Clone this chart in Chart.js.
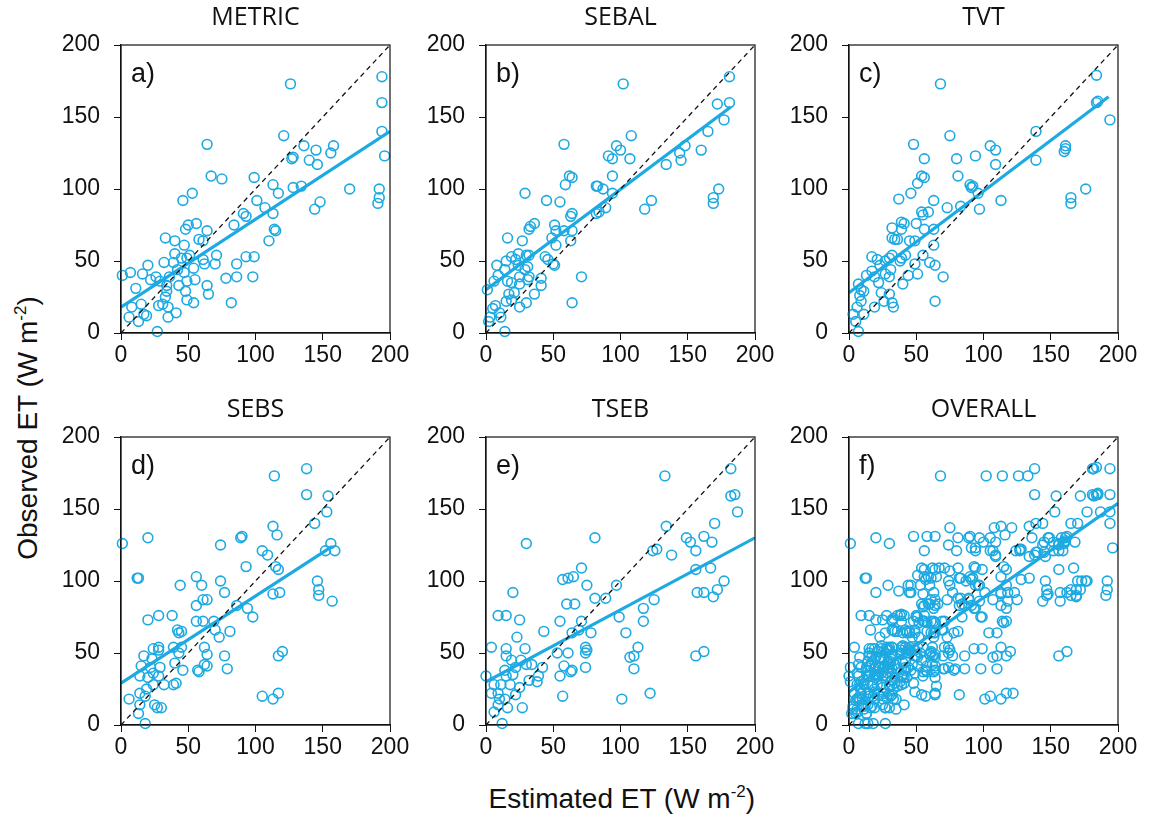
<!DOCTYPE html>
<html>
<head>
<meta charset="utf-8">
<script src="https://cdn.jsdelivr.net/npm/chart.js@4.4.0/dist/chart.umd.min.js"></script>
<style>
  html, body { margin: 0; padding: 0; background: #fff; }
  body { width: 1150px; height: 825px; position: relative; overflow: hidden; }
  canvas { position: absolute; }
  .axt { position: absolute; font-family: "Liberation Sans", Arial, sans-serif; font-size: 28px; color: #111; white-space: nowrap; }
  .axt sup { font-size: 17px; vertical-align: 11px; line-height: 0; }
</style>
</head>
<body>
<canvas id="c0" width="354" height="373"></canvas>
<canvas id="c1" width="354" height="373"></canvas>
<canvas id="c2" width="354" height="373"></canvas>
<canvas id="c3" width="354" height="373"></canvas>
<canvas id="c4" width="354" height="373"></canvas>
<canvas id="c5" width="354" height="373"></canvas>
<div class="axt" id="ytitle">Observed ET (W m<sup>-2</sup>)</div>
<div class="axt" id="xtitle">Estimated ET (W m<sup>-2</sup>)</div>
<script>
// ---------- DATA ----------
const panelTitles = ["METRIC", "SEBAL", "TVT", "SEBS", "TSEB", "OVERALL"];
const panelLetters = ["a)", "b)", "c)", "d)", "e)", "f)"];
const tickValues = [0, 50, 100, 150, 200];

const metricEst = [126,194,194,194,196,121,64,136,145,158,156,127,128,140,146,67,75,99,113,117,128,134,170,192,192,191,144,148,53,46,101,107,113,91,93,84,114,115,110,56,50,48,64,33,40,58,61,47,40,45,49,51,32,39,61,54,62,71,70,93,99,86,20,7,1,16,26,22,36,42,47,49,55,43,48,64,65,78,86,98,11,34,34,33,31,28,35,35,41,49,54,82,15,8,6,13,19,17,27,29];
const metricObs = [173,178,160,140,123,137,131,130,127,130,125,121,122,120,117,109,107,108,103,97,101,102,100,100,94,90,86,91,97,92,92,87,83,83,81,75,72,71,64,76,75,72,71,66,64,65,64,61,55,52,52,54,49,49,51,45,48,54,48,53,53,48,47,42,40,41,39,37,39,44,42,36,37,33,29,33,27,38,39,39,31,33,29,25,20,19,18,11,14,23,21,21,20,18,11,8,12,13,1,36];

const sebalEst = [102,181,181,172,177,165,160,148,144,145,134,108,97,100,107,91,94,94,82,83,87,94,58,62,64,59,29,45,55,173,169,169,123,118,89,84,82,64,63,64,51,52,58,49,63,52,36,33,32,27,16,44,46,50,51,30,32,24,22,19,15,8,14,9,6,1,24,29,31,32,31,25,25,19,41,41,36,30,25,21,17,19,15,7,5,10,11,3,2,14,71,64,16];
const sebalObs = [173,178,160,159,148,140,127,130,125,120,117,137,130,127,121,123,121,109,102,102,100,97,131,109,108,103,97,92,91,100,94,90,92,86,87,84,83,83,81,71,75,71,71,66,64,61,76,74,72,64,66,53,51,48,47,54,54,55,51,53,50,47,44,40,36,30,47,44,46,39,37,39,34,35,38,33,27,21,18,28,27,23,22,19,17,14,11,11,8,1,39,21,36];

const tvtEst = [68,184,184,185,194,139,139,161,160,161,176,165,165,75,48,105,109,94,80,56,109,81,54,56,51,46,90,91,92,96,113,97,37,63,73,83,54,55,59,50,56,63,39,41,32,39,32,34,36,45,49,63,42,39,38,32,30,27,17,21,23,17,13,19,27,30,31,22,24,26,32,33,30,40,44,51,49,55,60,64,70,64,7,9,11,8,9,6,3,11,19,7,5];
const tvtObs = [173,179,160,161,148,140,120,130,126,128,100,94,90,137,131,130,127,123,121,121,117,109,109,108,104,97,103,101,102,97,92,86,93,92,87,88,84,82,84,76,72,72,77,76,73,72,66,65,65,64,64,61,54,52,50,54,52,50,53,51,47,43,40,39,41,39,44,35,28,22,21,18,27,34,40,41,48,54,49,47,39,22,34,30,29,26,22,18,13,13,18,1,8];

const sebsEst = [1,20,12,13,114,138,138,154,153,144,156,152,159,113,116,105,109,115,117,93,89,90,74,146,147,147,157,113,118,56,60,44,74,77,61,64,56,86,94,98,56,61,69,70,73,81,38,28,20,42,43,45,39,45,43,62,64,62,64,57,58,77,79,46,40,41,39,32,28,24,28,17,23,15,22,29,24,28,20,14,24,19,18,14,6,14,13,25,30,27,18,105,113,117,117,120];
const sebsObs = [126,130,102,102,173,178,160,159,148,140,126,121,121,138,132,121,118,110,108,110,130,131,125,100,94,90,86,91,92,103,97,97,100,92,87,87,83,83,81,75,72,72,72,66,61,65,76,76,73,66,64,65,54,54,50,54,49,42,41,38,37,48,39,38,43,29,28,28,54,53,52,48,46,41,40,40,36,34,33,34,28,25,20,22,18,14,8,14,12,12,1,20,18,22,48,51];

const tsebEst = [133,182,182,185,187,170,134,149,152,162,168,156,124,127,138,81,30,156,167,177,172,169,157,162,125,117,117,71,57,61,65,75,97,81,89,60,66,20,9,15,25,55,71,99,104,43,64,69,78,23,4,15,29,53,61,74,75,74,113,110,107,110,156,162,15,19,26,30,34,42,22,14,20,15,0,58,64,63,74,55,39,38,32,25,18,11,6,4,9,10,9,14,22,16,27,6,12,57,101,122];
const tsebObs = [173,178,159,160,148,140,138,130,127,131,127,121,121,122,118,130,126,108,109,100,94,89,92,92,87,81,72,109,101,102,103,97,97,88,88,84,84,92,76,76,73,72,72,75,64,65,64,66,64,61,54,53,53,50,50,54,52,50,54,48,47,39,48,51,48,45,45,42,42,40,40,38,35,34,34,41,38,37,40,34,34,30,31,26,28,28,28,22,22,18,14,18,21,12,12,9,1,20,18,22];

// OVERALL panel: all estimates of the five models together
const overallEst = [].concat(metricEst, sebalEst, tvtEst, sebsEst, tsebEst);
const overallObs = [].concat(metricObs, sebalObs, tvtObs, sebsObs, tsebObs);

// regression lines: [xStart, yStart, xEnd, yEnd]
const metricFit  = [0, 18, 200, 140];
const sebalFit   = [0, 30, 182, 157];
const tvtFit     = [0, 28, 193, 164];
const sebsFit    = [0, 29, 157, 124];
const tsebFit    = [0, 30, 200, 130];
const overallFit = [0, 23, 200, 154];
const oneToOne   = [0, 0, 200, 200];

// ---------- LAYOUT ----------
const plotLefts = [121, 486, 849, 121, 486, 849];
const plotTops  = [45, 45, 45, 437, 437, 437];
const Y_AXIS_W = 60, TITLE_H = 45;

const ests = [metricEst, sebalEst, tvtEst, sebsEst, tsebEst, overallEst];
const obss = [metricObs, sebalObs, tvtObs, sebsObs, tsebObs, overallObs];
const fits = [metricFit, sebalFit, tvtFit, sebsFit, tsebFit, overallFit];

const BLUE = '#1DA9E1';
const TICK_FONT = { family: '"Liberation Sans", Arial, sans-serif', size: 23 };

const framePlugin = {
  id: 'frame',
  afterDraw(chart, args, opts) {
    const a = chart.chartArea, ctx = chart.ctx;
    ctx.save();
    ctx.strokeStyle = '#111';
    ctx.lineWidth = 1.2;
    ctx.strokeRect(a.left, a.top, a.right - a.left, a.bottom - a.top);
    ctx.fillStyle = '#111';
    ctx.font = '27px "Liberation Sans", Arial, sans-serif';
    ctx.textBaseline = 'top';
    ctx.textAlign = 'left';
    ctx.fillText(opts.letter, a.left + 10, a.top + 16);
    ctx.restore();
  }
};

function pts(xs, ys) { return xs.map((x, i) => ({ x: x, y: ys[i] })); }
function seg(f) { return [{ x: f[0], y: f[1] }, { x: f[2], y: f[3] }]; }

for (let i = 0; i < 6; i++) {
  const cv = document.getElementById('c' + i);
  cv.style.left = (plotLefts[i] - Y_AXIS_W) + 'px';
  cv.style.top = (plotTops[i] - TITLE_H) + 'px';
  new Chart(cv, {
    type: 'scatter',
    data: {
      datasets: [
        { type: 'line', data: seg(oneToOne), borderColor: '#111', borderWidth: 1.3, borderDash: [5, 4], pointRadius: 0, fill: false },
        { type: 'line', data: seg(fits[i]), borderColor: BLUE, borderWidth: 3.2, pointRadius: 0, fill: false },
        { data: pts(ests[i], obss[i]), pointStyle: 'circle', pointRadius: 4.9, pointBorderWidth: 1.6,
          borderColor: BLUE, backgroundColor: 'rgba(0,0,0,0)', pointBackgroundColor: 'rgba(0,0,0,0)', clip: false }
      ]
    },
    options: {
      responsive: false,
      animation: false,
      devicePixelRatio: 1,
      layout: { padding: { left: 0, right: 25, top: 0, bottom: 0 } },
      plugins: {
        legend: { display: false },
        tooltip: { enabled: false },
        title: {
          display: true, text: panelTitles[i], fullSize: false, color: '#111',
          font: { family: '"Open Sans", "Noto Sans", sans-serif', size: 25, weight: 'normal', lineHeight: 1.2 },
          padding: { top: 3, bottom: TITLE_H - 3 - 25 * 1.2 }
        },
        frame: { letter: panelLetters[i] }
      },
      scales: {
        x: {
          type: 'linear', min: 0, max: 200,
          afterBuildTicks: s => { s.ticks = tickValues.map(v => ({ value: v })); },
          afterFit: s => { s.height = 40; },
          grid: { display: true, drawOnChartArea: false, drawTicks: true, tickLength: 7, color: '#111', tickColor: '#111' },
          border: { display: true, color: '#111', width: 1.2 },
          ticks: { font: TICK_FONT, color: '#111', padding: 2, maxRotation: 0 }
        },
        y: {
          type: 'linear', min: 0, max: 200,
          afterBuildTicks: s => { s.ticks = tickValues.map(v => ({ value: v })); },
          afterFit: s => { s.width = Y_AXIS_W; },
          grid: { display: true, drawOnChartArea: false, drawTicks: true, tickLength: 7, color: '#111', tickColor: '#111' },
          border: { display: true, color: '#111', width: 1.2 },
          ticks: { font: TICK_FONT, color: '#111', padding: 14 }
        }
      }
    },
    plugins: [framePlugin]
  });
}

// axis titles
const yt = document.getElementById('ytitle');
const xt = document.getElementById('xtitle');
xt.style.left = (622 - xt.offsetWidth / 2) + 'px';
xt.style.top = (799 - xt.offsetHeight / 2) + 'px';
yt.style.left = (28 - yt.offsetWidth / 2) + 'px';
yt.style.top = (428 - yt.offsetHeight / 2) + 'px';
yt.style.transform = 'rotate(-90deg)';
</script>
</body>
</html>
